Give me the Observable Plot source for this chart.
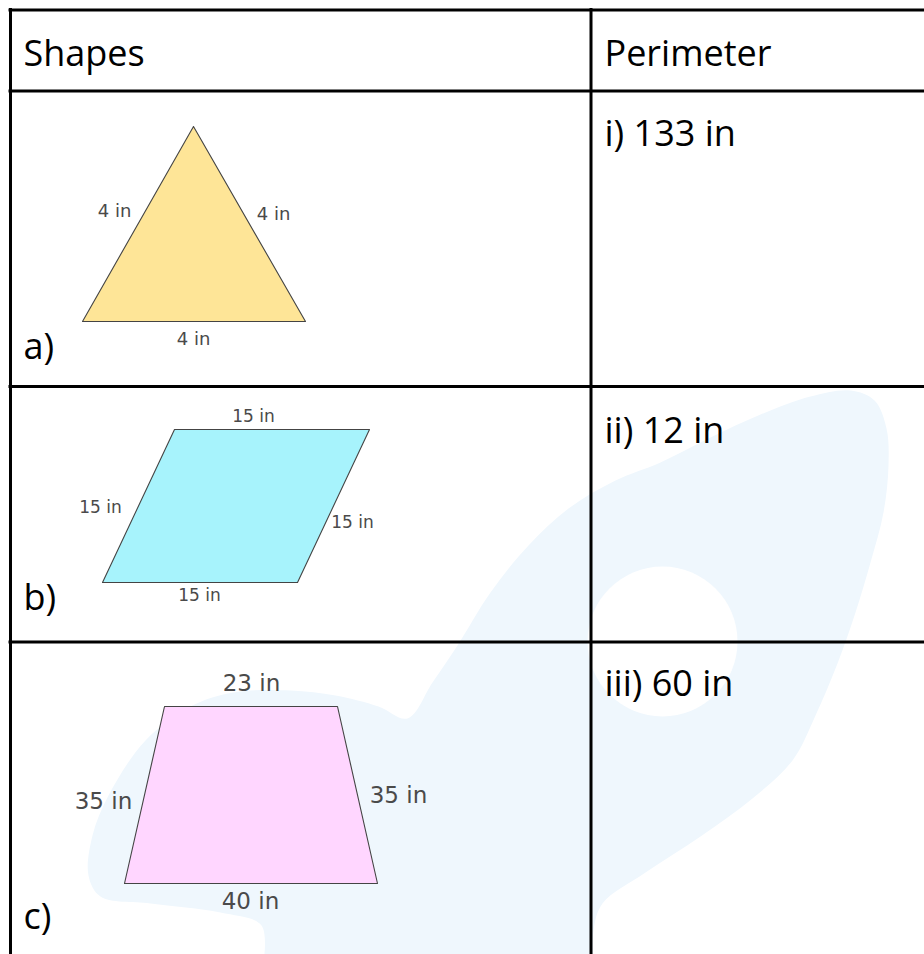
<!DOCTYPE html>
<html>
<head>
<meta charset="utf-8">
<script src="https://cdn.jsdelivr.net/npm/d3@7"></script>
<script src="https://cdn.jsdelivr.net/npm/@observablehq/plot@0.6"></script>
<style>
  html, body { margin: 0; padding: 0; background: #fff; }
  #chart svg { display: block; }
</style>
</head>
<body>
<div id="chart"></div>
<script>
// ---- Table content ----
const headers = ["Shapes", "Perimeter"];
const rowLetters = ["a)", "b)", "c)"];
const perimeters = ["i) 133 in", "ii) 12 in", "iii) 60 in"];

// ---- Table grid (pixel positions) ----
const columnLines = [10, 590.5];          // vertical rules
const rowLines = [9.5, 90.5, 386, 641.5]; // horizontal rules
const columnTextX = [23, 604];
const headerBaseline = 65;
const letterBaselines = [358, 609, 928];
const perimeterBaselines = [145, 442, 695];

// ---- Shapes (vertices) ----
const triangle = [[193, 126], [305, 321], [82, 321]];
const parallelogram = [[174, 429], [369, 429], [297, 582], [102, 582]];
const trapezoid = [[164, 706], [337, 706], [377, 883], [124, 883]];
const shapeFills = ["#FEE597", "#A7F3FC", "#FFD6FF"];

// ---- Side labels ----
const triangleLabels = [
  {t: "4 in", x: 114, y: 211},
  {t: "4 in", x: 273, y: 214},
  {t: "4 in", x: 193, y: 339}
];
const parallelogramLabels = [
  {t: "15 in", x: 253, y: 416},
  {t: "15 in", x: 100, y: 507},
  {t: "15 in", x: 352, y: 522},
  {t: "15 in", x: 199, y: 595}
];
const trapezoidLabels = [
  {t: "23 in", x: 251, y: 683},
  {t: "35 in", x: 103, y: 801},
  {t: "35 in", x: 398, y: 795},
  {t: "40 in", x: 250, y: 901}
];

// ---- Background watermark outline ----
const watermark = [
  [263, 962], [261, 925], [220, 912], [150, 903], [100, 896], [88, 875],
  [92, 835], [108, 795], [145, 740], [190, 706], [233, 692], [290, 690],
  [335, 695], [378, 706], [407, 718], [432, 682], [457, 645], [490, 592],
  [528, 545], [568, 508], [615, 480], [660, 462], [710, 437], [760, 414],
  [810, 396], [850, 390], [874, 400], [886, 428], [888, 465], [883, 512],
  [870, 562], [855, 612], [837, 663], [815, 715], [792, 760], [752, 798],
  [700, 836], [645, 872], [602, 903], [593, 930], [593, 962]
];
const watermarkHole = [{x: 662, y: 641}];

// ---- Build data for marks ----
const polys = [triangle, parallelogram, trapezoid].flatMap((pts, i) =>
  [...pts, pts[0]].map(([x, y]) => ({shape: i, x, y}))
);
const wmPts = watermark.map(([x, y]) => ({x, y}));

const headerRows = headers.map((t, i) => ({t, x: columnTextX[i], y: headerBaseline}));
const letterRows = rowLetters.map((t, i) => ({t, x: columnTextX[0], y: letterBaselines[i]}));
const perimRows = perimeters.map((t, i) => ({t, x: columnTextX[1], y: perimeterBaselines[i]}));

const labelFont = "DejaVu Sans";
const labelColor = "#4a4a4a";

const chart = Plot.plot({
  width: 924,
  height: 954,
  margin: 0,
  x: {domain: [0, 924], range: [0, 924], axis: null},
  y: {domain: [0, 954], range: [0, 954], axis: null},
  style: {background: "#ffffff", fontFamily: "Open Sans"},
  marks: [
    // watermark
    Plot.line(wmPts, {x: "x", y: "y", fill: "#EFF7FD", stroke: "none", curve: "catmull-rom"}),
    Plot.dot(watermarkHole, {x: "x", y: "y", r: 75, fill: "#ffffff", stroke: "none"}),
    // shapes
    ...[0, 1, 2].map(i =>
      Plot.line(polys.filter(d => d.shape === i), {
        x: "x", y: "y", fill: shapeFills[i], stroke: "#444", strokeWidth: 1.1, curve: "linear"
      })
    ),
    // side labels
    Plot.text(triangleLabels, {x: "x", y: "y", text: "t", fontFamily: labelFont, fontSize: 18,
      fill: labelColor, textAnchor: "middle", lineAnchor: "middle", style: "letter-spacing:1.2px"}),
    Plot.text(parallelogramLabels, {x: "x", y: "y", text: "t", fontFamily: labelFont, fontSize: 17,
      fill: labelColor, textAnchor: "middle", lineAnchor: "middle"}),
    Plot.text(trapezoidLabels, {x: "x", y: "y", text: "t", fontFamily: labelFont, fontSize: 23,
      fill: labelColor, textAnchor: "middle", lineAnchor: "middle"}),
    // table grid
    Plot.ruleY(rowLines, {y: d => d, x1: columnLines[0] - 1.5, x2: 924, stroke: "#000", strokeWidth: 3}),
    Plot.ruleX(columnLines, {x: d => d, y1: rowLines[0] - 1.5, y2: 954, stroke: "#000", strokeWidth: 3}),
    // table text
    Plot.text(headerRows, {x: "x", y: "y", text: "t", fontSize: 36, fill: "#000",
      textAnchor: "start", lineAnchor: "bottom"}),
    Plot.text(letterRows, {x: "x", y: "y", text: "t", fontSize: 36, fill: "#000",
      textAnchor: "start", lineAnchor: "bottom"}),
    Plot.text(perimRows, {x: "x", y: "y", text: "t", fontSize: 36, fill: "#000",
      textAnchor: "start", lineAnchor: "bottom"})
  ]
});
document.getElementById("chart").appendChild(chart);
</script>
</body>
</html>
